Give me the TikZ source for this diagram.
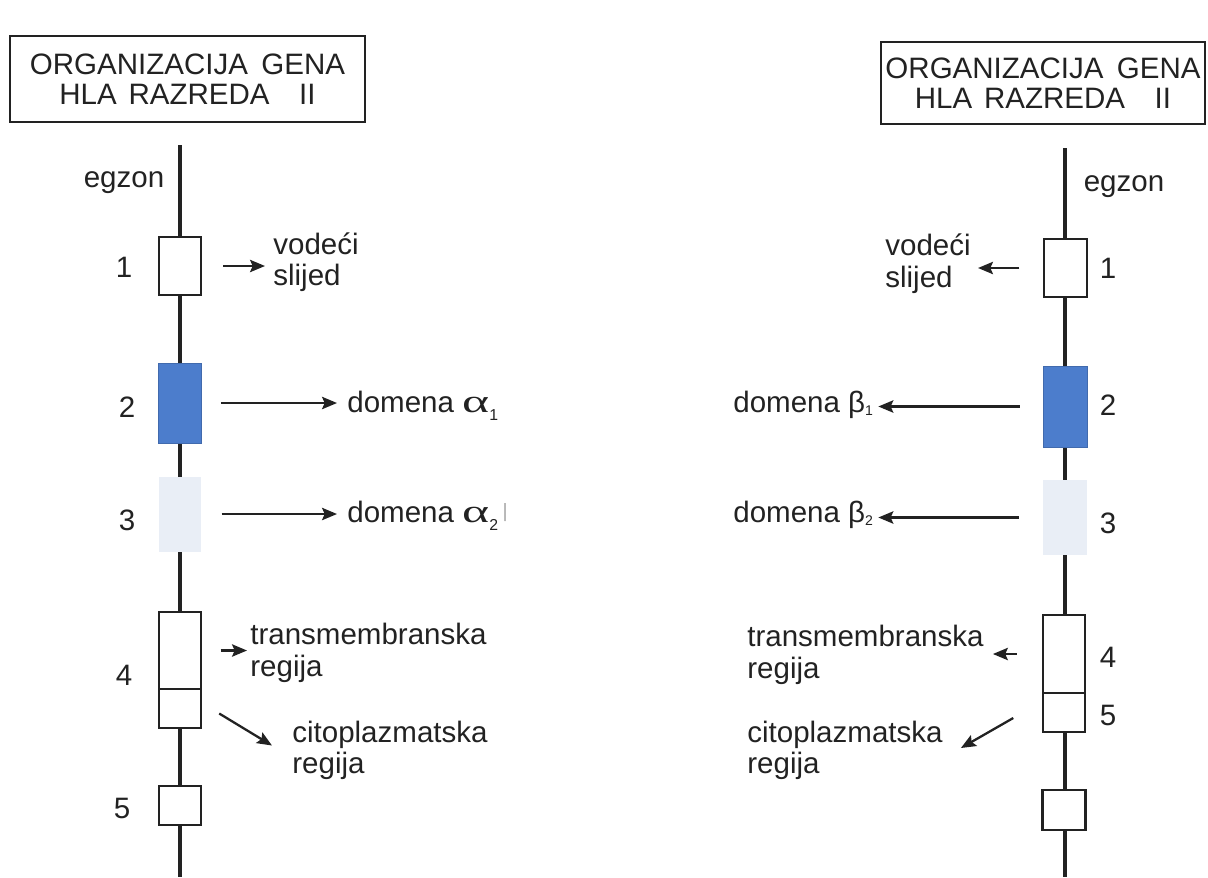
\documentclass[tikz,border=0pt]{standalone}
\usepackage{fontspec}
\setmainfont{Liberation Sans}
\newfontfamily\greekfont{Liberation Serif}
\usepackage{graphicx}
\usepackage{tikz}
\usetikzlibrary{arrows.meta}
\definecolor{ink}{RGB}{34,34,34}
\definecolor{exonblue}{RGB}{76,125,204}
\definecolor{exonpale}{RGB}{233,238,246}
\newcommand{\alf}[1]{\scalebox{1.75}[1.1]{\greekfont α}\raisebox{-0.3em}{\fontsize{9}{9}\selectfont #1}}
\newcommand{\bet}[1]{β\raisebox{-0.12em}{\fontsize{8}{8}\selectfont #1}}

\begin{document}
\begin{tikzpicture}[x=0.02cm,y=-0.02cm,text=ink,
    font=\fontsize{16.8}{18}\selectfont,
    gene/.style={draw=ink,line width=2pt},
    exon/.style={draw=ink,line width=1.4pt,fill=white,inner sep=0pt,minimum width=0.84cm},
    heading/.style={draw=ink,line width=1.2pt,align=center,inner sep=0pt,
      font=\fontsize{16.8}{17}\selectfont},
    lbl/.style={align=left,inner sep=0pt},
    arr/.style={draw=ink,line width=1.3pt,-{Stealth[length=8.5pt,width=7pt,inset=1.5pt]}}]
      \useasboundingbox (0,0) rectangle (1208,877);

      % left column
      \node[heading,minimum width=7.1cm,minimum height=1.72cm] (tl) at (187.5,79)
        {ORGANIZACIJA\hspace{0.45em}GENA\\HLA\hspace{0.4em}RAZREDA\hspace{1em}II};
      \draw[gene] (180,145) -- (180,877);
      \node (egl) at (124,183) {egzon};
      \node[exon,minimum height=1.16cm] (l1) at (180,266) {};
      \node[exon,draw=exonblue!85!black,line width=0.4pt,fill=exonblue,minimum width=0.86cm,minimum height=1.6cm] (l2) at (180,403) {};
      \node[exon,draw=none,fill=exonpale,minimum width=0.86cm,minimum height=1.5cm] (l3) at (180,514) {};
      \node[exon,minimum height=1.54cm] (l4) at (180,650.5) {};
      \node[exon,minimum height=0.78cm] (l4c) at (180,708.5) {};
      \node[exon,minimum height=0.78cm] (l5) at (180,805.5) {};
      \node (nl1) at (124,267) {1};
      \node (nl2) at (127,407) {2};
      \node (nl3) at (127,520) {3};
      \node (nl4) at (124,675) {4};
      \node (nl5) at (122,808) {5};
      \node[lbl,anchor=west] (ll) at (273,262) {vodeći\\slijed};
      \node[lbl,anchor=base west] (la1) at (347,412) {domena \alf{1}};
      \node[lbl,anchor=base west] (la2) at (347,522)
        {domena \alf{2}\hspace{0.15em}\textcolor{black!35}{\raisebox{0.15em}{\fontsize{11}{11}\selectfont|}}};
      \node[lbl,anchor=west] (ltm) at (250,653) {transmembranska\\regija};
      \node[lbl,anchor=west] (lcp) at (292,750.5) {citoplazmatska\\regija};
      \draw[arr,shorten <=4.2mm,shorten >=1.6mm] (l1.east) -- (l1.east -| ll.west);
      \draw[arr,shorten <=3.8mm,shorten >=2mm] (l2.east) -- (l2.east -| la1.west);
      \draw[arr,shorten <=3.8mm,shorten >=2mm] (l3.east) -- (l3.east -| la2.west);
      \draw[arr,shorten <=3.7mm,shorten >=0.6mm] (l4.east) -- (l4.east -| ltm.west);
      \draw[arr] ([shift={(17,5)}]l4c.east) -- ([shift={(-20,-5)}]lcp.west);

      % right column
      \node[heading,minimum width=6.48cm,minimum height=1.64cm] (tr) at (1043,83)
        {ORGANIZACIJA\hspace{0.45em}GENA\\HLA\hspace{0.4em}RAZREDA\hspace{1em}II};
      \draw[gene] (1065,148) -- (1065,877);
      \node (egr) at (1124,187) {egzon};
      \node[exon,minimum width=0.86cm,minimum height=1.16cm] (r1) at (1065.5,268) {};
      \node[exon,draw=exonblue!85!black,line width=0.4pt,fill=exonblue,minimum width=0.88cm,minimum height=1.62cm] (r2) at (1065,406.5) {};
      \node[exon,draw=none,fill=exonpale,minimum width=0.88cm,minimum height=1.5cm] (r3) at (1065,517.5) {};
      \node[exon,minimum height=1.56cm] (r4) at (1064,654) {};
      \node[exon,minimum height=0.78cm] (r4c) at (1064,712.5) {};
      \node[exon,minimum width=0.86cm,minimum height=0.8cm] (r5) at (1064,810) {};
      \node (nr1) at (1108,268) {1};
      \node (nr2) at (1108,405) {2};
      \node (nr3) at (1108,523) {3};
      \node (nr4) at (1108,657) {4};
      \node (nr5) at (1108,715) {5};
      \node[lbl,anchor=west] (rl) at (885,263.5) {vodeći\\slijed};
      \node[lbl,anchor=base west] (rb1) at (733,412) {domena \bet{1}};
      \node[lbl,anchor=base west] (rb2) at (733,522) {domena \bet{2}};
      \node[lbl,anchor=west] (rtm) at (747,655) {transmembranska\\regija};
      \node[lbl,anchor=west] (rcp) at (747,750.5) {citoplazmatska\\regija};
      \draw[arr,shorten <=4.7mm,shorten >=1.4mm] (r1.west) -- (r1.west -| rl.east);
      \draw[arr,shorten <=4.6mm,shorten >=1mm] (r2.west) -- (r2.west -| rb1.east);
      \draw[arr,shorten <=4.6mm,shorten >=1mm] (r3.west) -- (r3.west -| rb2.east);
      \draw[arr,shorten <=5mm,shorten >=1.8mm] (r4.west) -- (r4.west -| rtm.east);
      \draw[arr] ([shift={(-28.5,5.5)}]r4c.west) -- ([shift={(18,-2.5)}]rcp.east);
\end{tikzpicture}
\end{document}
